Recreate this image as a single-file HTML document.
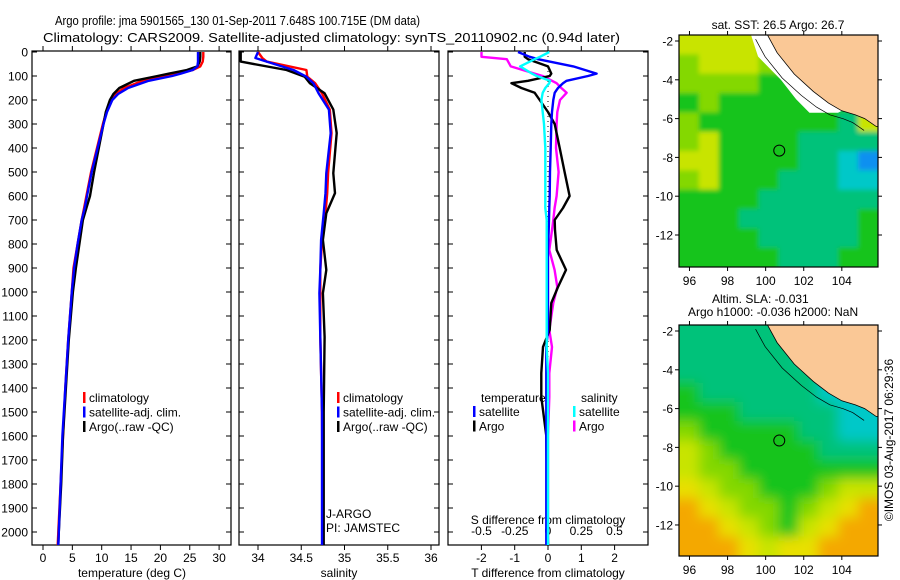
<!DOCTYPE html>
<html><head><meta charset="utf-8">
<style>
html,body{margin:0;padding:0;background:#fff;}
svg{display:block;font-family:"Liberation Sans",sans-serif;}
</style></head>
<body>
<svg id="fig" width="900" height="580" viewBox="0 0 900 580" xmlns="http://www.w3.org/2000/svg">
<defs>
<filter id="blur2" x="0" y="0" width="1" height="1"><feGaussianBlur stdDeviation="6"/></filter>
<filter id="blur1" x="0" y="0" width="1" height="1"><feGaussianBlur stdDeviation="2.5"/></filter>
<clipPath id="clipMap1"><rect x="679" y="35" width="199" height="232"/></clipPath>
<clipPath id="clipMap2"><rect x="679" y="325" width="199" height="231"/></clipPath>
<clipPath id="clipP1"><rect x="32" y="51" width="199" height="494"/></clipPath>
<clipPath id="clipP2"><rect x="239" y="51" width="200" height="494"/></clipPath>
<clipPath id="clipP3"><rect x="448" y="51" width="200" height="494"/></clipPath>
</defs>
<text x="55" y="25" font-size="13" textLength="365" lengthAdjust="spacingAndGlyphs">Argo profile: jma 5901565_130 01-Sep-2011 7.648S 100.715E (DM data)</text>
<text x="43" y="42" font-size="13" textLength="577" lengthAdjust="spacingAndGlyphs">Climatology: CARS2009. Satellite-adjusted climatology: synTS_20110902.nc (0.94d later)</text>
<g id="layer"></g>
</svg>
<script>
// ---- temperature profile data (depth m, deg C)
const tDepth = [0,20,40,60,75,90,100,120,150,175,200,250,300,400,500,600,650,700,800,900,1000,1200,1400,1600,1800,2000,2055];
const tArgo  = [26.8,26.8,26.7,26.3,24.5,21.5,19.5,15.5,13.0,12.0,11.4,10.7,10.3,9.5,8.7,8.0,7.4,6.8,6.2,5.6,5.1,4.4,3.9,3.4,3.1,2.7,2.6];
const tClim  = [27.3,27.3,27.2,26.8,25.5,23.0,21.0,17.0,13.8,12.4,11.6,10.8,10.2,9.2,8.2,7.4,7.0,6.6,5.9,5.2,4.9,4.3,3.8,3.4,3.0,2.6,2.5];
const tSat   = [26.4,26.4,26.4,26.3,25.5,23.5,22.0,18.0,14.5,12.8,11.8,10.9,10.3,9.3,8.3,7.5,7.1,6.6,5.9,5.3,4.9,4.3,3.8,3.3,3.0,2.7,2.6];
// ---- salinity profile data
const sDepth = [0,25,40,75,103,130,172,240,338,505,588,672,783,908,1005,1187,1500,2000,2055];
const sArgo  = [33.8,33.8,33.8,34.33,34.54,34.60,34.77,34.87,34.91,34.87,34.89,34.79,34.75,34.79,34.75,34.77,34.76,34.76,34.76];
const sClim  = [34.0,34.05,34.1,34.56,34.57,34.66,34.74,34.83,34.85,34.81,34.80,34.78,34.74,34.72,34.72,34.72,34.74,34.75,34.75];
const sSat   = [34.0,33.97,34.1,34.41,34.56,34.64,34.70,34.82,34.84,34.79,34.78,34.76,34.73,34.72,34.71,34.72,34.74,34.74,34.74];
// ---- differences from climatology
const dDepth  = [0,20,30,60,90,100,120,130,150,160,170,200,250,300,400,500,600,650,700,742,825,908,979,1046,1158,1229,1338,1437,1600,2055];
const dTArgo  = [-0.7,-0.7,-0.6,0.0,0.1,0.05,-0.6,-1.1,-0.8,-0.6,-0.4,-0.25,0.0,0.2,0.35,0.5,0.65,0.45,0.2,0.21,0.26,0.54,0.3,0.1,0.05,-0.15,-0.2,-0.2,-0.05,0.0];
const dTSat   = [-0.9,-0.55,-0.3,0.76,1.46,1.2,0.56,0.45,0.3,0.25,0.2,0.16,0.12,0.1,0.08,0.06,0.05,0.04,0.03,0.02,0.0,0.0,0.0,0.0,0.0,-0.05,-0.05,-0.05,-0.05,-0.05];
const dSArgo  = [-0.5,-0.5,-0.31,-0.28,-0.1,-0.04,0.03,0.065,0.1,0.12,0.14,0.09,0.07,0.065,0.06,0.08,0.065,0.05,0.04,0.03,0.01,0.05,0.07,0.04,0.01,0.03,0.01,0.01,0.0,0.0];
const dSSat   = [0.01,-0.06,-0.1,-0.21,-0.12,-0.085,0.015,0.01,-0.02,-0.03,-0.04,-0.05,-0.04,-0.03,-0.02,-0.02,-0.02,-0.02,-0.01,-0.01,-0.01,-0.01,-0.01,-0.01,-0.01,-0.01,0.0,0.0,0.0,0.0];
// ---- tick labels
const depthTicks = [0,100,200,300,400,500,600,700,800,900,1000,1100,1200,1300,1400,1500,1600,1700,1800,1900,2000];
const tempTicks = [0,5,10,15,20,25,30];
const salTicks = ["34","34.5","35","35.5","36"];
const dTTicks = [-2,-1,0,1,2];
const dSTicks = ["-0.5","-0.25","0","0.25","0.5"];
const lonTicks = [96,98,100,102,104];
const latTicks = [-2,-4,-6,-8,-10,-12];
// ---- maps (coarse colour grids, north->south rows, west->east cols)
const sstGrid = ["YYYYLGGGGG","LYYYLLGGGG","LLLLGGGGGG","GLGGGGGGGG","LGGGGGGGTY","LYGGGGTTTT","YYGGGGTTCB","LYGGGTTTCC","GGGGTTTTTT","GGGTTTTTTG","GGGGTTTTTG","GGGGGTTTGG"];
const slaGrid = ["TTTTTTTTTT","TTTTTTCCCC","TTTTTTTCCC","GTTTTTTCCC","GGGTTTTTCC","LGGGGGTTCC","YLGGGGGTTT","YLLGGGGGGG","EYLLGGGLYY","OEYLLGLYEO","OOEYLGYEOO","OOOEYEEOOO"];
const floatLon = 100.715, floatLat = -7.648;
const coastLon = [100.1,100.6,101.5,102.5,103.3,104.0,104.7,105.2,105.8];
const coastLat = [-1.7,-2.6,-3.7,-4.6,-5.2,-5.6,-5.8,-6.0,-6.4];

const NS="http://www.w3.org/2000/svg";
const L=document.getElementById('layer');
function mk(tag,attrs,parent){const e=document.createElementNS(NS,tag);for(const k in attrs)e.setAttribute(k,attrs[k]);(parent||L).appendChild(e);return e;}
function txt(x,y,s,size,anchor,name,parent){const e=mk('text',{x:x,y:y,'font-size':size,'text-anchor':anchor||'start'},parent);e.textContent=s;


return e;}

const yD = d => 52 + 0.24*d;
const xT = v => 43 + 5.87*v;
const xS = v => 258 + 86.5*(v-34);
const xdT = v => 548 + 33.3*v;
const xdS = v => 548 + 133*v;

function linePath(depths, vals, fx){
  return depths.map((d,i)=>(i?'L':'M')+fx(vals[i]).toFixed(1)+' '+yD(d).toFixed(1)).join(' ');
}
function line(depths, vals, fx, color, name, clip){
  const e=mk('path',{d:linePath(depths,vals,fx),fill:'none',stroke:color,'stroke-width':2.4,'stroke-linejoin':'round','clip-path':'url(#'+clip+')'});
  
  
}
function frame(x,y,w,h,name){
  const e=mk('rect',{x:x,y:y,width:w,height:h,fill:'none',stroke:'#000','stroke-width':1.2});
  
  
}
function tickV(x,y0,y1,len){mk('line',{x1:x,y1:y0,x2:x,y2:y0-len,stroke:'#000'});mk('line',{x1:x,y1:y1,x2:x,y2:y1+len,stroke:'#000'});}
function tickH(y,x0,x1,len){mk('line',{x1:x0,y1:y,x2:x0+len,y2:y,stroke:'#000'});mk('line',{x1:x1,y1:y,x2:x1-len,y2:y,stroke:'#000'});}

// Panel 1: temperature
frame(32,51,199,494,'temperature-panel');
depthTicks.forEach(d=>{tickH(yD(d),32,231,5);txt(28,yD(d)+4.5,String(d),12,'end','depth-tick-label');});
tempTicks.forEach(t=>{tickV(xT(t),51,545,5);txt(xT(t),562,String(t),12,'middle','temp-tick-label');});
txt(132,577,'temperature (deg C)',12,'middle','temperature-axis-title');
line(tDepth,tClim,xT,'#f00','temp-climatology-line','clipP1');
line(tDepth,tArgo,xT,'#000','temp-argo-line','clipP1');
line(tDepth,tSat,xT,'#00f','temp-satellite-line','clipP1');
function legend(x,y,items,prefix){
  items.forEach((it,i)=>{
    const r=mk('rect',{x:x,y:y+i*14.5-10,width:2.5,height:11,fill:it[0]});
    
    
    txt(x+6,y+i*14.5,it[1],12,'start',prefix+'-legend-entry');
  });
}
const legItems=[['#f00','climatology'],['#00f','satellite-adj. clim.'],['#000','Argo(..raw -QC)']];
legend(83,402,legItems,'temp');

// Panel 2: salinity
frame(239,51,200,494,'salinity-panel');
depthTicks.forEach(d=>tickH(yD(d),239,439,5));
salTicks.forEach(s=>{const v=parseFloat(s);tickV(xS(v),51,545,5);txt(xS(v),562,s,12,'middle','salinity-tick-label');});
txt(339,577,'salinity',12,'middle','salinity-axis-title');
line(sDepth,sClim,xS,'#f00','sal-climatology-line','clipP2');
line(sDepth,sArgo,xS,'#000','sal-argo-line','clipP2');
line(sDepth,sSat,xS,'#00f','sal-satellite-line','clipP2');
legend(337,402,legItems,'sal');
txt(326,518,'J-ARGO',12,'start','data-centre-label');
txt(326,532,'PI: JAMSTEC',12,'start','pi-label');

// Panel 3: differences
frame(448,51,200,494,'difference-panel');
depthTicks.forEach(d=>tickH(yD(d),448,648,5));
mk('line',{x1:548,y1:51,x2:548,y2:545,stroke:'#000','stroke-dasharray':'1,4'});
dTTicks.forEach(t=>{tickV(xdT(t),51,545,5);txt(xdT(t),562,String(t),12,'middle','t-diff-tick-label');});
dSTicks.forEach(s=>{txt(xdS(parseFloat(s)),535,s,12,'middle','s-diff-tick-label');});
txt(548,524,'S difference from climatology',12,'middle','s-diff-axis-title');
txt(548,577,'T difference from climatology',12,'middle','t-diff-axis-title');
line(dDepth,dSArgo,xdS,'#f0f','s-diff-argo-line','clipP3');
line(dDepth,dTArgo,xdT,'#000','t-diff-argo-line','clipP3');
line(dDepth,dTSat,xdT,'#00f','t-diff-satellite-line','clipP3');
line(dDepth,dSSat,xdS,'#0ff','s-diff-satellite-line','clipP3');
txt(481,402,'temperature',12,'start','diff-legend-temperature-heading');
txt(581,402,'salinity',12,'start','diff-legend-salinity-heading');
legend(473,416,[['#00f','satellite'],['#000','Argo']],'diff-temp');
legend(573,416,[['#0ff','satellite'],['#f0f','Argo']],'diff-sal');

// Maps
const palette={Y:'#c8e400',L:'#84d800',G:'#12c41e',T:'#00c27a',C:'#00c8c8',B:'#1090f0',E:'#e8e000',O:'#f4a800'};
function map(y0,h,grid,latTop,latBot,name,blurId,clip){
  const x0=679,w=199,lonL=95.45,lonR=105.9;
  const mx=lon=>x0+(lon-lonL)/(lonR-lonL)*w;
  const my=lat=>y0+(latTop-lat)/(latTop-latBot)*h;
  const g=mk('g',{'clip-path':'url(#'+clip+')'});
  
  
  const inner=mk('g',{filter:'url(#'+blurId+')'},g);
  const rows=grid.length,cols=grid[0].length;
  const cw=w/cols,ch=h/rows;
  mk('rect',{x:x0-20,y:y0-20,width:w+40,height:h+40,fill:palette[grid[0][0]]},inner);
  grid.forEach((row,r)=>{[...row].forEach((c,k)=>{
    const ex0=k===0?20:0, ey0=r===0?20:0, ex1=k===cols-1?20:0, ey1=r===rows-1?20:0;
    mk('rect',{x:x0+k*cw-ex0,y:y0+r*ch-ey0,width:cw+0.5+ex0+ex1,height:ch+0.5+ey0+ey1,fill:palette[c]},inner);
  });});
  let pts=coastLon.map((lo,i)=>mx(lo).toFixed(1)+','+my(coastLat[i]).toFixed(1)).join(' ');
  pts+=' '+(x0+w+5)+','+my(-6.4)+' '+(x0+w+5)+','+(y0-5)+' '+mx(100.1)+','+(y0-5);
  if(blurId==='blur1'){
    const gap=mk('polygon',{points:mx(99.2)+','+(y0-2)+' '+mx(100.1)+','+(y0-2)+' '+coastLon.slice(0,6).map((lo,i)=>mx(lo)+','+my(coastLat[i])).join(' ')+' '+mx(103.8)+','+my(-5.7)+' '+mx(102.3)+','+my(-5.7)+' '+mx(101.6)+','+my(-5.0)+' '+mx(100.8)+','+my(-4.0)+' '+mx(99.6)+','+my(-2.8),fill:'#fff'},g);
    
    
  }
  const land=mk('polygon',{points:pts,fill:'#fac896',stroke:'#000','stroke-width':0.8},g);
  
  
  const iso=mk('polyline',{points:coastLon.map((lo,i)=>(mx(lo)-12).toFixed(1)+','+(my(coastLat[i])+4).toFixed(1)).join(' '),fill:'none',stroke:'#000','stroke-width':0.7},g);
  
  
  const circ=mk('circle',{cx:mx(floatLon),cy:my(floatLat),r:5.5,fill:'none',stroke:'#000','stroke-width':1});
  
  
  frame(x0,y0,w,h,name+'-frame');
  latTicks.forEach(lat=>{const y=my(lat);mk('line',{x1:x0,y1:y,x2:x0-4,y2:y,stroke:'#000'});mk('line',{x1:x0+w,y1:y,x2:x0+w+4,y2:y,stroke:'#000'});txt(x0-6,y+4.5,String(lat),12,'end',name+'-lat-label');});
  lonTicks.forEach(lon=>{const x=mx(lon);mk('line',{x1:x,y1:y0,x2:x,y2:y0-4,stroke:'#000'});mk('line',{x1:x,y1:y0+h,x2:x,y2:y0+h+4,stroke:'#000'});txt(x,y0+h+18,String(lon),12,'middle',name+'-lon-label');});
}
map(35,232,sstGrid,-1.69,-13.65,'sst-map','blur1','clipMap1');
txt(778,29,'sat. SST: 26.5  Argo: 26.7',12,'middle','sst-map-title');
map(325,231,slaGrid,-1.69,-13.6,'sla-map','blur2','clipMap2');
txt(712,303,'Altim. SLA: -0.031',12,'start','sla-label');
txt(688,316,'Argo h1000: -0.036  h2000: NaN',12,'start','argo-height-label');
const cp=txt(0,0,'©IMOS 03-Aug-2017 06:29:36',12,'middle','copyright-label');
cp.setAttribute('transform','translate(893,440) rotate(-90)');
</script>
</body></html>
